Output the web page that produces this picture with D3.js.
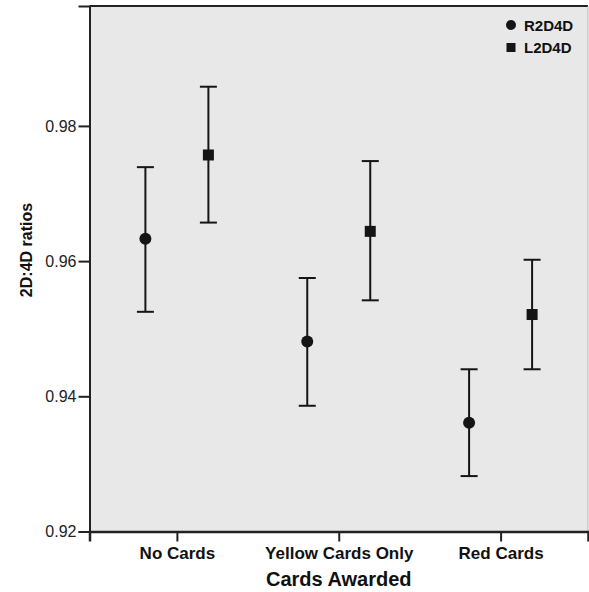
<!DOCTYPE html>
<html><head><meta charset="utf-8">
<script src="https://cdn.jsdelivr.net/npm/d3@7"></script>
<style>body{margin:0;background:#fff}</style>
</head><body>
<script>
const categories = ["No Cards", "Yellow Cards Only", "Red Cards"];
const seriesNames = ["R2D4D", "L2D4D"];
const r2d4dMean = [0.9633, 0.9481, 0.9361];
const r2d4dLow  = [0.9525, 0.9386, 0.9282];
const r2d4dHigh = [0.9739, 0.9575, 0.9440];
const l2d4dMean = [0.9757, 0.9644, 0.9521];
const l2d4dLow  = [0.9657, 0.9542, 0.9440];
const l2d4dHigh = [0.9858, 0.9748, 0.9602];
const yTicks = [0.92, 0.94, 0.96, 0.98];

const W = 589, H = 592;
const plot = {left: 89.5, right: 588, top: 6, bottom: 531.5};
const svg = d3.select("body").append("svg").attr("width", W).attr("height", H);

const x = d3.scalePoint().domain(categories).range([plot.left, plot.right]).padding(0.54);
const y = d3.scaleLinear().domain([0.92, 0.99774]).range([plot.bottom, plot.top]);
const offset = d3.scalePoint().domain(seriesNames).range([-31.5, 31.5]);

svg.append("rect").attr("x", plot.left).attr("y", plot.top)
  .attr("width", plot.right - plot.left).attr("height", plot.bottom - plot.top)
  .attr("fill", "#e8e8e8");
svg.append("line").attr("x1", plot.left).attr("x2", plot.right).attr("y1", plot.top).attr("y2", plot.top)
  .attr("stroke", "#222").attr("stroke-width", 2);
svg.append("line").attr("x1", plot.right).attr("x2", plot.right).attr("y1", plot.top).attr("y2", plot.bottom)
  .attr("stroke", "#bbb").attr("stroke-width", 1);

const yAxis = svg.append("g").attr("transform", `translate(${plot.left},0)`)
  .call(d3.axisLeft(y).tickValues(yTicks).tickFormat(d3.format(".2f")).tickSize(11).tickPadding(2));
yAxis.select(".domain").attr("stroke", "#222").attr("stroke-width", 2);
yAxis.selectAll(".tick line").attr("stroke", "#222").attr("stroke-width", 2);
yAxis.selectAll(".tick text").attr("font-family", "Liberation Sans, Arial, sans-serif")
  .attr("font-size", 16).attr("fill", "#222");

const xAxis = svg.append("g").attr("transform", `translate(0,${plot.bottom})`)
  .call(d3.axisBottom(x).tickSize(10).tickPadding(5));
xAxis.select(".domain").attr("stroke", "#222").attr("stroke-width", 2.5);
xAxis.selectAll(".tick line").attr("stroke", "#222").attr("stroke-width", 2);
xAxis.selectAll(".tick text").attr("font-family", "Liberation Sans, Arial, sans-serif")
  .attr("font-size", 17).attr("font-weight", "bold").attr("fill", "#111");

svg.append("text").attr("x", x("Yellow Cards Only")).attr("y", 586)
  .attr("text-anchor", "middle").attr("font-family", "Liberation Sans, Arial, sans-serif")
  .attr("font-size", 20).attr("font-weight", "bold").attr("fill", "#111").text("Cards Awarded");

svg.append("text").attr("transform", `translate(32,250) rotate(-90)`)
  .attr("text-anchor", "middle").attr("font-family", "Liberation Sans, Arial, sans-serif")
  .attr("font-size", 16).attr("font-weight", "bold").attr("fill", "#111")
  .text("2D:4D ratios");

const series = [
  {name: "R2D4D", mean: r2d4dMean, low: r2d4dLow, high: r2d4dHigh, shape: "circle"},
  {name: "L2D4D", mean: l2d4dMean, low: l2d4dLow, high: l2d4dHigh, shape: "square"}
];
const ink = "#151515";
series.forEach(s => {
  const g = svg.append("g");
  categories.forEach((c, i) => {
    const cx = x(c) + offset(s.name);
    g.append("line").attr("x1", cx).attr("x2", cx).attr("y1", y(s.low[i])).attr("y2", y(s.high[i]))
      .attr("stroke", ink).attr("stroke-width", 2);
    [s.low[i], s.high[i]].forEach(v => {
      g.append("line").attr("x1", cx - 8.5).attr("x2", cx + 8.5).attr("y1", y(v)).attr("y2", y(v))
        .attr("stroke", ink).attr("stroke-width", 2);
    });
    if (s.shape === "circle") {
      g.append("circle").attr("cx", cx).attr("cy", y(s.mean[i])).attr("r", 6).attr("fill", ink);
    } else {
      g.append("rect").attr("x", cx - 5.5).attr("y", y(s.mean[i]) - 5.5).attr("width", 11).attr("height", 11).attr("fill", ink);
    }
  });
});

const leg = svg.append("g");
seriesNames.forEach((n, i) => {
  const ly = 25 + i * 22.5;
  if (i === 0) leg.append("circle").attr("cx", 511).attr("cy", ly).attr("r", 5).attr("fill", ink);
  else leg.append("rect").attr("x", 506.5).attr("y", ly - 4.5).attr("width", 9).attr("height", 9).attr("fill", ink);
  leg.append("text").attr("x", 524).attr("y", ly + 5.5).attr("font-family", "Liberation Sans, Arial, sans-serif")
    .attr("font-size", 15).attr("font-weight", "bold").attr("fill", "#111").text(n);
});
</script>
</body></html>
